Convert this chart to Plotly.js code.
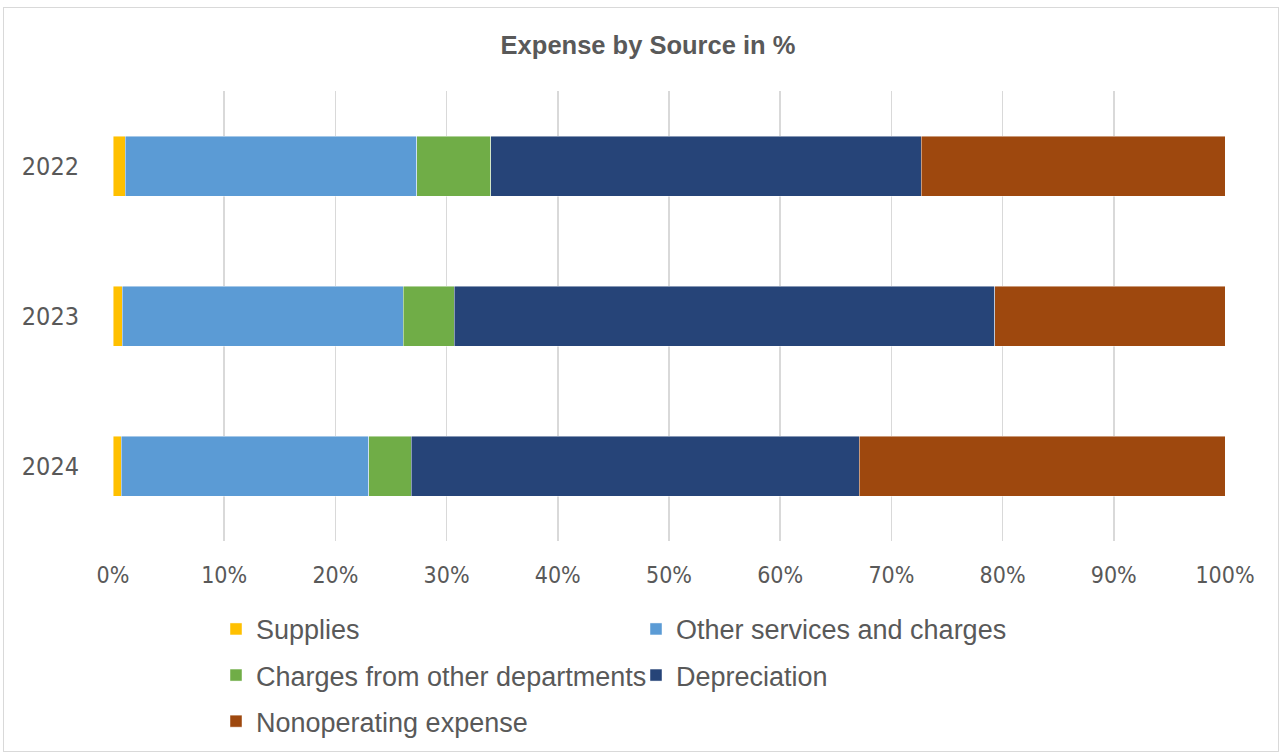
<!DOCTYPE html>
<html>
<head>
<meta charset="utf-8">
<script src="https://cdn.plot.ly/plotly-3.0.1.min.js"></script>
<style>
  html, body { margin: 0; padding: 0; background: #ffffff; }
  #wrap { position: relative; width: 1283px; height: 753px; }
  #chart { width: 1283px; height: 753px; }
  #frame { position: absolute; left: 3px; top: 7px; width: 1276px; height: 745px;
           border: 1px solid #d9d9d9; pointer-events: none; box-sizing: border-box; }
</style>
</head>
<body>
<div id="wrap">
  <div id="chart"></div>
  <div id="frame"></div>
</div>
<script>
// Categories (years)
const years = ['2022', '2023', '2024'];

// Series values (% of total expense)
const supplies      = [1.1, 0.85, 0.75];
const otherServices = [26.2, 25.25, 22.25];
const charges       = [6.65, 4.6, 3.8];
const depreciation  = [38.75, 48.6, 40.3];
const nonoperating  = [27.3, 20.7, 32.9];

// Series names
const seriesNames = ['Supplies', 'Other services and charges', 'Charges from other departments', 'Depreciation', 'Nonoperating expense'];

// Axis tick values / labels
const xTickVals = [0, 10, 20, 30, 40, 50, 60, 70, 80, 90, 100];
const xTickText = ['0%', '10%', '20%', '30%', '40%', '50%', '60%', '70%', '80%', '90%', '100%'];

const seriesValues = [supplies, otherServices, charges, depreciation, nonoperating];
const colors = ['#FFC000', '#5B9BD5', '#70AD47', '#264478', '#9E480E'];
const legendOf = ['legend', 'legend2', 'legend', 'legend2', 'legend'];

const textColor = '#595959';
const tickFont = "'DejaVu Sans Condensed', 'Liberation Sans', sans-serif";
const legendFont = "'Liberation Sans', Arial, sans-serif";

const traces = seriesValues.map((vals, i) => ({
  type: 'bar',
  orientation: 'h',
  name: seriesNames[i],
  y: years,
  x: vals,
  legend: legendOf[i],
  legendgroup: 'g' + i,
  marker: { color: colors[i], line: { color: 'rgba(255,255,255,0.6)', width: 0.75 } },
  hoverinfo: 'none'
}));

const legendCommon = {
  orientation: 'v',
  traceorder: 'grouped',
  tracegroupgap: 8,
  font: { family: legendFont, size: 27, color: textColor },
  bgcolor: 'rgba(0,0,0,0)',
  borderwidth: 0,
  xanchor: 'left',
  yanchor: 'top',
  y: -0.142
};

const layout = {
  width: 1283,
  height: 753,
  paper_bgcolor: '#ffffff',
  plot_bgcolor: '#ffffff',
  margin: { l: 113, r: 58, t: 91, b: 212, autoexpand: false },
  barmode: 'stack',
  bargap: 0.6,
  showlegend: true,
  title: {
    text: '<b>Expense by Source in %</b>',
    x: 648 / 1283, xref: 'container', xanchor: 'center',
    y: 1 - 45 / 753, yref: 'container', yanchor: 'middle',
    font: { family: "'Liberation Sans', Arial, sans-serif", size: 25.5, color: textColor }
  },
  xaxis: {
    range: [0, 100],
    tickvals: xTickVals,
    ticktext: xTickText,
    showgrid: true,
    gridcolor: '#d9d9d9',
    gridwidth: 1.5,
    zeroline: false,
    showline: false,
    ticks: '',
    ticklabelstandoff: 18,
    tickfont: { family: tickFont, size: 23, color: textColor },
    fixedrange: true
  },
  yaxis: {
    type: 'category',
    categoryorder: 'array',
    categoryarray: years,
    autorange: 'reversed',
    showgrid: false,
    zeroline: false,
    showline: false,
    ticks: '',
    ticklabelstandoff: 33,
    tickfont: { family: tickFont, size: 25, color: textColor },
    fixedrange: true
  },
  legend: Object.assign({}, legendCommon, { x: (216 - 113) / 1112 }),
  legend2: Object.assign({}, legendCommon, { x: (636 - 113) / 1112 })
};

Plotly.newPlot('chart', traces, layout, { displayModeBar: false, staticPlot: true });
</script>
</body>
</html>
